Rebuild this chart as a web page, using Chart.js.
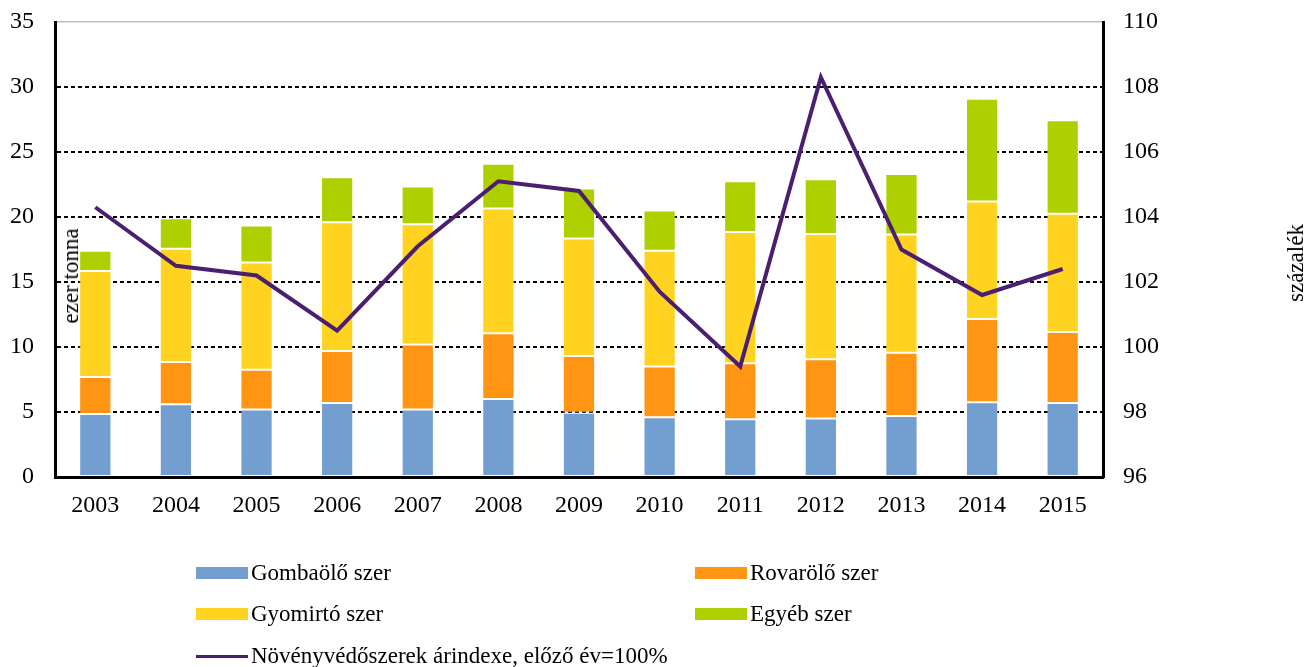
<!DOCTYPE html>
<html>
<head>
<meta charset="utf-8">
<script src="https://cdn.jsdelivr.net/npm/chart.js@4/dist/chart.umd.min.js"></script>
<style>
    body { margin: 0; background: #fff; }
    #wrap { position: relative; width: 1314px; height: 667px; font-family: 'Liberation Serif', 'Times New Roman', serif; color: #000; }
    #chart { position: absolute; left: 0; top: 0; }
    .vtitle { position: absolute; font-size: 23px; white-space: nowrap; transform: translate(-50%, -50%) rotate(-90deg); }
    .legend-item { position: absolute; font-size: 23px; white-space: nowrap; display: flex; align-items: center; transform: translateY(-50%); }
    .swatch { display: inline-block; width: 52px; height: 12px; margin-right: 3px; }
    .swatch.line { height: 3px; }
</style>
</head>
<body>
<div id="wrap">
    <canvas id="chart" width="1314" height="667"></canvas>
    <div class="vtitle" style="left:71px; top:276px;">ezer tonna</div>
    <div class="vtitle" style="left:1296px; top:263px;">százalék</div>
    <div id="legend"></div>
</div>
<script>
const years = ['2003', '2004', '2005', '2006', '2007', '2008', '2009', '2010', '2011', '2012', '2013', '2014', '2015'];

// ezer tonna
const gombaolo = [4.85, 5.6, 5.2, 5.7, 5.2, 6.0, 4.95, 4.6, 4.45, 4.5, 4.7, 5.75, 5.7];
const rovarolo = [2.85, 3.25, 3.05, 4.0, 5.0, 5.05, 4.35, 3.9, 4.3, 4.55, 4.85, 6.4, 5.45];
const gyomirto = [8.15, 8.7, 8.25, 9.9, 9.25, 9.6, 9.05, 8.9, 10.1, 9.65, 9.1, 9.05, 9.1];
const egyeb = [1.55, 2.35, 2.85, 3.45, 2.9, 3.45, 3.85, 3.1, 3.9, 4.2, 4.65, 7.9, 7.2];

// százalék, előző év = 100
const arindex = [104.3, 102.5, 102.2, 100.5, 103.1, 105.1, 104.8, 101.7, 99.4, 108.3, 103.0, 101.6, 102.4];

const leftTicks = [0, 5, 10, 15, 20, 25, 30, 35];
const rightTicks = [96, 98, 100, 102, 104, 106, 108, 110];

const colors = {
    gomba: '#729fcf',
    rovar: '#ff9512',
    gyom: '#ffd320',
    egyeb: '#aecf00',
    line: '#4b1f6f'
};

const font = { family: "'Liberation Serif', 'Times New Roman', serif", size: 24 };

function barSet(label, data, color) {
    return {
        type: 'bar',
        label: label,
        data: data,
        backgroundColor: color,
        borderColor: 'rgba(255,255,255,0.3)',
        borderWidth: 1,
        borderSkipped: false,
        barPercentage: 0.4,
        categoryPercentage: 1,
        yAxisID: 'y',
        order: 1
    };
}

const datasets = [
    barSet('Gombaölő szer', gombaolo, colors.gomba),
    barSet('Rovarölő szer', rovarolo, colors.rovar),
    barSet('Gyomirtó szer', gyomirto, colors.gyom),
    barSet('Egyéb szer', egyeb, colors.egyeb),
    {
        type: 'line',
        label: 'Növényvédőszerek árindexe, előző év=100%',
        data: arindex,
        borderColor: colors.line,
        backgroundColor: colors.line,
        borderWidth: 4,
        pointRadius: 0,
        tension: 0,
        yAxisID: 'y1',
        order: 0
    }
];

// fixed axis sizes so the plot area sits where it does in the original
function fitVertical(width) {
    return (s) => {
        s.width = width;
        s.paddingTop = 0;
        s.paddingBottom = 0;
    };
}

const ctx = document.getElementById('chart').getContext('2d');
new Chart(ctx, {
    data: { labels: years, datasets: datasets },
    options: {
        responsive: false,
        animation: false,
        layout: { padding: { top: 22, left: 0, right: 0, bottom: 0 } },
        plugins: {
            legend: { display: false },
            tooltip: { enabled: false }
        },
        scales: {
            x: {
                stacked: true,
                grid: { display: false, drawTicks: false },
                border: { display: true, color: '#000', width: 3 },
                ticks: { color: '#000', font: font, padding: 14, maxRotation: 0 },
                afterFit: (s) => { s.height = 190; s.paddingLeft = 0; s.paddingRight = 0; }
            },
            y: {
                stacked: true,
                position: 'left',
                min: 0,
                max: 35,
                afterBuildTicks: (s) => { s.ticks = leftTicks.map(v => ({ value: v })); },
                ticks: { color: '#000', font: font, padding: 21 },
                grid: {
                    drawTicks: false,
                    color: (c) => c.tick.value === 0 ? 'rgba(0,0,0,0)' : (c.tick.value === 35 ? '#bdbdbd' : '#000'),
                    lineWidth: (c) => c.tick.value === 35 ? 1.5 : 2
                },
                border: {
                    display: true,
                    color: '#000',
                    width: 3,
                    dash: (c) => c.tick && c.tick.value === 35 ? [] : [4, 3]
                },
                afterFit: fitVertical(55)
            },
            y1: {
                position: 'right',
                min: 96,
                max: 110,
                afterBuildTicks: (s) => { s.ticks = rightTicks.map(v => ({ value: v })); },
                ticks: { color: '#000', font: font, padding: 20 },
                grid: { display: false, drawTicks: false },
                border: { display: true, color: '#000', width: 3 },
                afterFit: fitVertical(211)
            }
        }
    }
});

// legend below the chart
const legendItems = [
    { label: 'Gombaölő szer', color: colors.gomba, x: 196, y: 573 },
    { label: 'Rovarölő szer', color: colors.rovar, x: 695, y: 573 },
    { label: 'Gyomirtó szer', color: colors.gyom, x: 196, y: 614 },
    { label: 'Egyéb szer', color: colors.egyeb, x: 695, y: 614 },
    { label: 'Növényvédőszerek árindexe, előző év=100%', color: colors.line, x: 196, y: 656, line: true }
];
const legendDiv = document.getElementById('legend');
legendItems.forEach(item => {
    const el = document.createElement('div');
    el.className = 'legend-item';
    el.style.left = item.x + 'px';
    el.style.top = item.y + 'px';
    el.innerHTML = `<span class="swatch${item.line ? ' line' : ''}" style="background:${item.color}"></span>${item.label}`;
    legendDiv.appendChild(el);
});
</script>
</body>
</html>
